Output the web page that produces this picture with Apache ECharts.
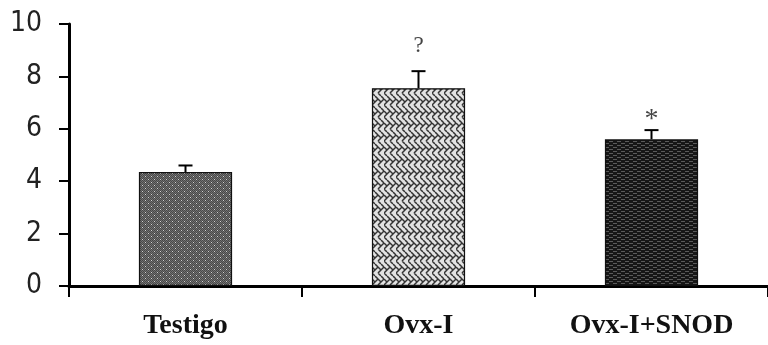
<!DOCTYPE html>
<html>
<head>
<meta charset="utf-8">
<script src="https://cdn.jsdelivr.net/npm/echarts@6/dist/echarts.min.js"></script>
<style>
html,body{margin:0;padding:0;background:#fff;}
#chart{width:768px;height:345px;}
</style>
</head>
<body>
<div id="chart"></div>
<script>
var categories = ['Testigo', 'Ovx-I', 'Ovx-I+SNOD'];
var means = [4.35, 7.55, 5.6];
var errUp = [0.25, 0.65, 0.35];
var marks = ['', '?', '*'];
var yMin = 0, yMax = 10, yStep = 2;

function makeTile(w, h, draw) {
  var c = document.createElement('canvas');
  c.width = w; c.height = h;
  var ctx = c.getContext('2d');
  draw(ctx, w, h);
  return c;
}
var patTestigo = makeTile(6, 6, function (ctx, w, h) {
  ctx.fillStyle = '#727272'; ctx.fillRect(0, 0, w, h);
  ctx.fillStyle = '#484848';
  for (var y = 0; y < h; y++) for (var x = 0; x < w; x++) if ((x + y) % 2 === 0) ctx.fillRect(x, y, 1, 1);
  ctx.fillStyle = '#d0d0d0';
  ctx.fillRect(1, 2, 1, 1); ctx.fillRect(4, 5, 1, 1);
});
var patOvx = makeTile(12, 12, function (ctx, w, h) {
  ctx.fillStyle = '#e2e2e2'; ctx.fillRect(0, 0, w, h);
  ctx.strokeStyle = '#333'; ctx.lineWidth = 1.5;
  ctx.beginPath();
  ctx.moveTo(0, 3); ctx.lineTo(3, 6); ctx.lineTo(6, 3); ctx.lineTo(9, 6); ctx.lineTo(12, 3);
  ctx.moveTo(0, 9); ctx.lineTo(3, 12); ctx.moveTo(3, 0); ctx.lineTo(6, 3);
  ctx.moveTo(6, 9); ctx.lineTo(9, 12); ctx.moveTo(9, 0); ctx.lineTo(12, 3);
  ctx.moveTo(0, 9); ctx.lineTo(3, 6);
  ctx.moveTo(6, 9); ctx.lineTo(9, 6);
  ctx.stroke();
});
var patSnod = makeTile(8, 4, function (ctx, w, h) {
  ctx.fillStyle = '#161616'; ctx.fillRect(0, 0, w, h);
  ctx.fillStyle = '#5a5a5a';
  ctx.fillRect(1, 1, 4, 1);
  ctx.fillRect(5, 3, 3, 1); ctx.fillRect(0, 3, 1, 1);
});
var patterns = [patTestigo, patOvx, patSnod];

var chart = echarts.init(document.getElementById('chart'), null, {renderer: 'canvas'});
var option = {
  animation: false,
  backgroundColor: '#fff',
  grid: {left: 69, right: 0, top: 24, bottom: 59, containLabel: false},
  xAxis: {
    type: 'category',
    data: categories,
    axisLine: {lineStyle: {color: '#000', width: 3}},
    axisTick: {show: true, length: 11, lineStyle: {color: '#000', width: 2}},
    axisLabel: {
      color: '#111', fontFamily: 'Liberation Serif', fontWeight: 'bold',
      fontSize: 28, margin: 26
    }
  },
  yAxis: {
    type: 'value',
    min: yMin, max: yMax, interval: yStep,
    axisLine: {show: true, lineStyle: {color: '#000', width: 3}},
    axisTick: {show: true, length: 10, lineStyle: {color: '#000', width: 2}},
    splitLine: {show: false},
    axisLabel: {
      color: '#222', fontFamily: '"DejaVu Sans Condensed", "Liberation Sans Narrow", sans-serif',
      fontSize: 28, margin: 27
    }
  },
  series: [
    {
      type: 'bar',
      barWidth: '40%',
      data: means.map(function (v, i) {
        return {value: v, itemStyle: {color: {image: patterns[i], repeat: 'repeat'}}};
      }),
      itemStyle: {borderColor: '#111', borderWidth: 1.2},
      z: 2
    },
    {
      type: 'custom',
      data: means.map(function (v, i) { return [i, v, v + errUp[i]]; }),
      renderItem: function (params, api) {
        var i = api.value(0);
        var base = api.coord([i, api.value(1)]);
        var top = api.coord([i, api.value(2)]);
        var hw = 7;
        var children = [
          {type: 'line', shape: {x1: base[0], y1: base[1], x2: top[0], y2: top[1]}, style: {stroke: '#000', lineWidth: 2}},
          {type: 'line', shape: {x1: top[0] - hw, y1: top[1], x2: top[0] + hw, y2: top[1]}, style: {stroke: '#000', lineWidth: 2}}
        ];
        var m = marks[params.dataIndex];
        if (m) {
          children.push({
            type: 'text',
            style: {
              text: m, x: top[0], y: top[1] + (m === '?' ? -14 : 4),
              align: 'center', verticalAlign: 'bottom',
              fill: '#444', fontFamily: 'Liberation Serif', fontSize: m === '?' ? 23 : 28
            }
          });
        }
        return {type: 'group', children: children};
      },
      z: 3
    }
  ]
};
chart.setOption(option);
</script>
</body>
</html>
